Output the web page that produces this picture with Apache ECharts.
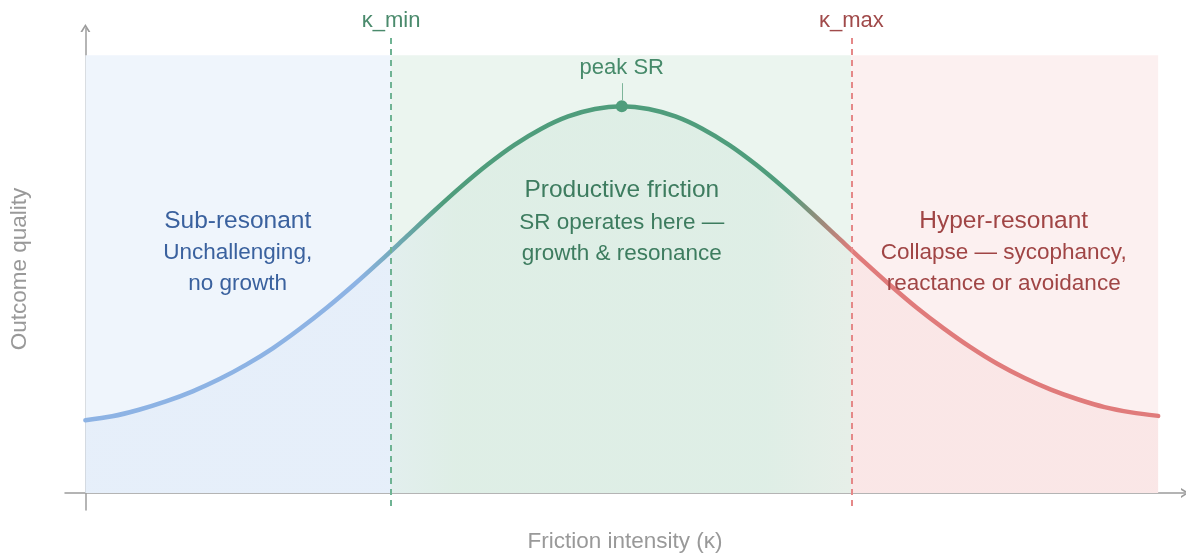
<!DOCTYPE html>
<html>
<head>
<meta charset="utf-8">
<title>Friction intensity vs outcome quality</title>
<script src="https://cdn.jsdelivr.net/npm/echarts@6/dist/echarts.min.js"></script>
<style>
  html, body { margin: 0; padding: 0; background: #fff; }
  #chart { width: 1186px; height: 553px; }
</style>
</head>
<body>
<div id="chart"></div>
<script>
// friction intensity (x) and outcome quality (y)
const kappa = [0, 0.25, 0.5, 0.75, 1, 1.25, 1.5, 1.75, 2, 2.25, 2.5, 2.75, 3, 3.25, 3.5, 3.75, 4, 4.25, 4.5, 4.75,
  5, 5.25, 5.5, 5.75, 6, 6.25, 6.5, 6.75, 7, 7.25, 7.5, 7.75, 8, 8.25, 8.5, 8.75, 9, 9.25, 9.5, 9.75, 10]
const quality = [1.66, 1.75, 1.9, 2.09, 2.32, 2.6, 2.93, 3.31, 3.75, 4.23, 4.75, 5.3, 5.87, 6.44, 6.99, 7.5, 7.95, 8.32, 8.6, 8.77,
  8.83, 8.77, 8.6, 8.32, 7.95, 7.5, 6.99, 6.44, 5.87, 5.3, 4.75, 4.23, 3.76, 3.33, 2.95, 2.63, 2.36, 2.14, 1.96, 1.84, 1.76]

// zone edges on the kappa axis, and top of the shaded zones
const zoneEdges = [0, 2.85, 7.14, 10]
const zoneTop = 10
const thresholdNames = ['κ_min', 'κ_max']
const peakPoint = [5, 8.83]

const zoneTitles = ['Sub-resonant', 'Productive friction', 'Hyper-resonant']
const zoneNotes = [
  ['Unchallenging,', 'no growth'],
  ['SR operates here —', 'growth & resonance'],
  ['Collapse — sycophancy,', 'reactance or avoidance']
]

const FONT = '"Liberation Sans", Arial, sans-serif'
const zoneBg = ['#eff5fc', '#ebf5ef', '#fcf0f0']
const zoneText = ['#3a619e', '#3d7c5f', '#a04545']
const labelSpots = [[1.42, 5.5], [5.0, 6.2], [8.56, 5.5]]

const chart = echarts.init(document.getElementById('chart'))

const curve = kappa.map((k, i) => [k, quality[i]])
const span = zoneEdges[3] - zoneEdges[0]
const e1 = (zoneEdges[1] - zoneEdges[0]) / span
const e2 = (zoneEdges[2] - zoneEdges[0]) / span

// open arrow head for the axis ends
const chevron = 'path://M0,8 L5,0 L10,8 L8,8 L5,3 L2,8 Z'

const option = {
  animation: false,
  textStyle: { fontFamily: FONT },
  grid: { left: 65, right: 1, top: 28, bottom: 43, outerBoundsMode: 'none', containLabel: false },
  xAxis: {
    type: 'value',
    min: -0.19,
    max: 10.25,
    name: 'Friction intensity (κ)',
    nameLocation: 'middle',
    nameGap: 20,
    nameTextStyle: { color: '#999', fontSize: 22.5, fontFamily: FONT },
    axisLine: {
      onZero: true,
      symbol: ['none', chevron],
      symbolSize: [12, 8],
      lineStyle: { color: '#9c9c9c', width: 1.5 }
    },
    axisTick: { show: false },
    axisLabel: { show: false },
    splitLine: { show: false }
  },
  yAxis: {
    type: 'value',
    min: -0.39,
    max: 10.62,
    name: 'Outcome quality',
    nameLocation: 'middle',
    nameGap: 34,
    nameRotate: 90,
    nameTextStyle: { color: '#999', fontSize: 22.5, fontFamily: FONT },
    axisLine: {
      show: true,
      onZero: true,
      symbol: ['none', chevron],
      symbolSize: [12, 8],
      lineStyle: { color: '#9c9c9c', width: 1.5 }
    },
    axisTick: { show: false },
    axisLabel: { show: false },
    splitLine: { show: false }
  },
  series: [
    {
      // zone backgrounds
      name: 'zones',
      type: 'line',
      data: [],
      z: 1,
      silent: true,
      markArea: {
        silent: true,
        data: zoneBg.map((c, i) => [
          { coord: [zoneEdges[i], 0], itemStyle: { color: c } },
          { coord: [zoneEdges[i + 1], zoneTop] }
        ])
      }
    },
    {
      name: 'quality',
      type: 'line',
      data: curve,
      smooth: 0.3,
      showSymbol: false,
      z: 2,
      lineStyle: {
        width: 4.5,
        cap: 'round',
        color: new echarts.graphic.LinearGradient(0, 0, 1, 0, [
          { offset: 0, color: '#8db3e4' },
          { offset: e1 - 0.03, color: '#8db3e4' },
          { offset: e1 + 0.05, color: '#4f9d7c' },
          { offset: e2 - 0.06, color: '#4f9d7c' },
          { offset: e2, color: '#e07b7b' },
          { offset: 1, color: '#e07b7b' }
        ])
      },
      areaStyle: {
        origin: 0,
        color: new echarts.graphic.LinearGradient(0, 0, 1, 0, [
          { offset: 0, color: 'rgba(95,145,215,0.09)' },
          { offset: e1, color: 'rgba(95,145,215,0.09)' },
          { offset: e1 + 0.06, color: 'rgba(60,150,110,0.1)' },
          { offset: e2 - 0.08, color: 'rgba(60,150,110,0.1)' },
          { offset: e2, color: 'rgba(140,120,100,0.07)' },
          { offset: e2 + 0.001, color: 'rgba(220,90,90,0.09)' },
          { offset: 1, color: 'rgba(220,90,90,0.09)' }
        ])
      }
    },
    {
      // kappa thresholds
      name: 'thresholds',
      type: 'line',
      data: [],
      z: 3,
      markLine: {
        silent: true,
        symbol: ['none', 'none'],
        data: thresholdNames.map((n, i) => [
          {
            coord: [zoneEdges[i + 1], -0.3],
            lineStyle: { color: i === 0 ? '#6fb393' : '#e58888', width: 2, type: [6, 5] },
            label: {
              show: true,
              position: 'end',
              distance: 5,
              formatter: n,
              color: i === 0 ? '#4a8a6c' : '#a04a4a',
              fontSize: 22,
              fontFamily: FONT
            }
          },
          { coord: [zoneEdges[i + 1], 10.41] }
        ])
      }
    },
    {
      name: 'peak',
      type: 'scatter',
      data: [peakPoint],
      z: 4,
      symbolSize: 12,
      itemStyle: { color: '#4f9d7c', opacity: 1 },
      label: {
        show: true,
        position: 'top',
        distance: 21,
        formatter: 'peak SR',
        color: '#468a6a',
        fontSize: 22,
        fontFamily: FONT
      },
      markLine: {
        silent: true,
        symbol: ['none', 'none'],
        label: { show: false },
        lineStyle: { color: '#7db59a', width: 1, type: 'solid' },
        data: [[{ coord: [peakPoint[0], peakPoint[1] + 0.14] }, { coord: [peakPoint[0], peakPoint[1] + 0.53] }]]
      }
    },
    {
      name: 'zone labels',
      type: 'scatter',
      symbolSize: 0,
      z: 5,
      silent: true,
      itemStyle: { opacity: 1 },
      data: zoneTitles.map((t, i) => ({
        value: labelSpots[i],
        label: {
          show: true,
          position: 'inside',
          align: 'center',
          verticalAlign: 'middle',
          formatter: '{h|' + t + '}\n' + zoneNotes[i].map(s => '{s|' + s + '}').join('\n'),
          rich: {
            h: { fontSize: 24.5, lineHeight: 33, color: zoneText[i], fontFamily: FONT, align: 'center' },
            s: { fontSize: 22.5, lineHeight: 31, color: zoneText[i], fontFamily: FONT, align: 'center' }
          }
        }
      }))
    }
  ]
}

chart.setOption(option)
</script>
</body>
</html>
